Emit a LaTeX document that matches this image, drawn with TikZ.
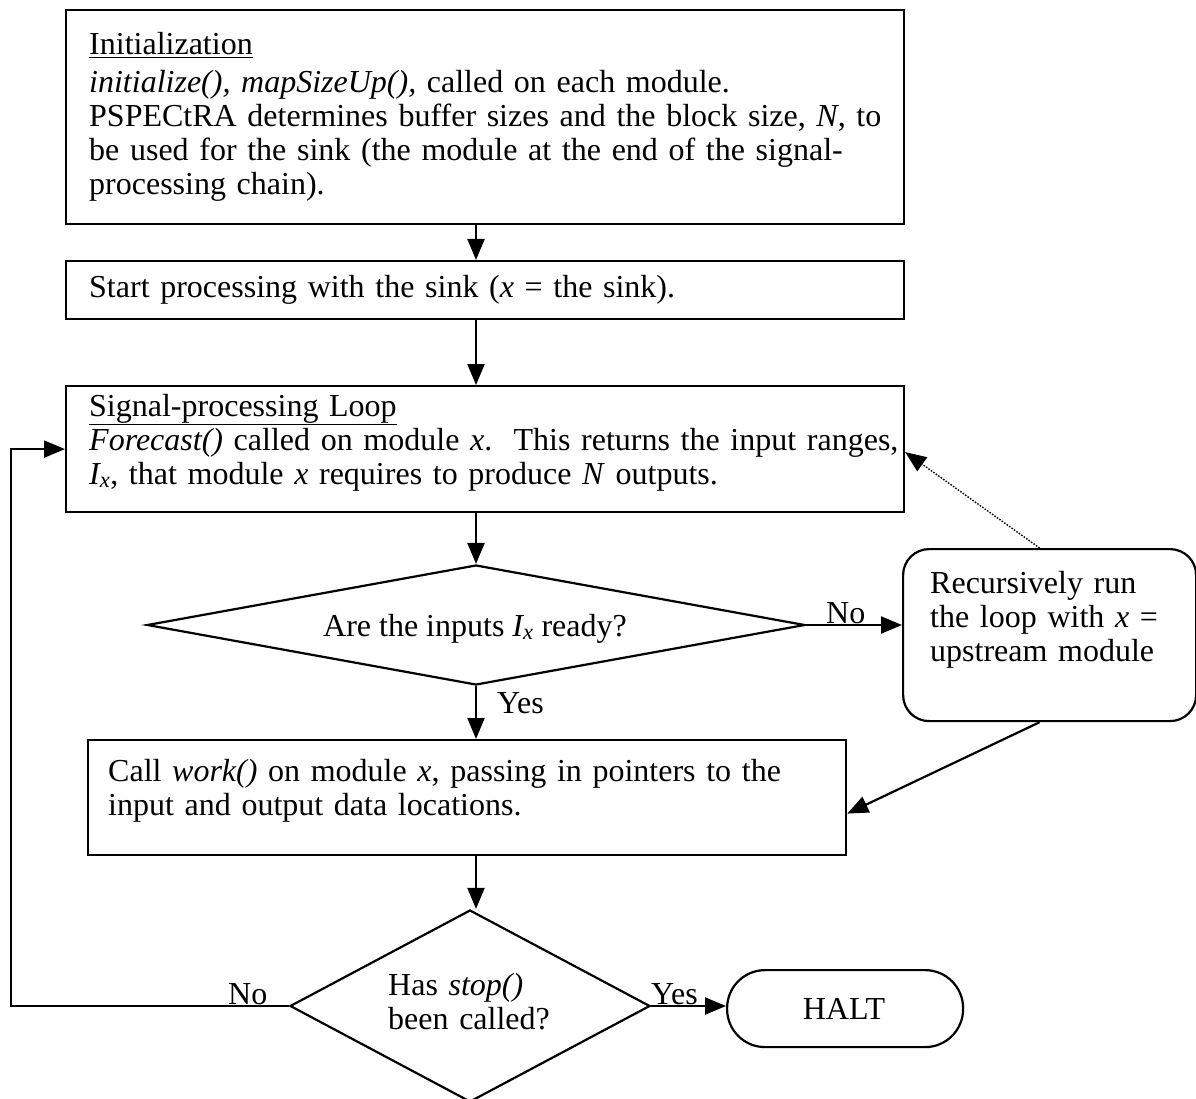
\documentclass[tikz,border=0pt]{standalone}
\usepackage{fontspec}
\setmainfont{Liberation Serif}
\usetikzlibrary{arrows.meta,shapes.geometric}

\begin{document}
\begin{tikzpicture}[x=1pt,y=-1pt,
  box/.style={draw, line width=2.2pt, inner sep=0pt, anchor=north west},
  txt/.style={inner sep=0pt, anchor=base west, align=left, text width=900pt,
              font=\fontsize{32}{34}\selectfont},
  lbl/.style={inner sep=0pt, anchor=base west, font=\fontsize{32}{34}\selectfont},
  arr/.style={-{Triangle[length=21pt,width=17pt]}, line width=2.2pt},
  dotarr/.style={-{Triangle[length=21pt,width=17pt]}, line width=1.4pt,
                 dash pattern=on 1.5pt off 1.5pt},
  dec/.style={draw, diamond, line width=2.2pt, inner sep=0pt},
]
\useasboundingbox (0,0) rectangle (1196,1099);

% process boxes
\node[box, minimum width=838pt, minimum height=214pt] (init) at (65,9) {};
\node[box, minimum width=838pt, minimum height=58pt] (start) at (65,260) {};
\node[box, minimum width=838pt, minimum height=126pt] (loop) at (65,385) {};
\node[box, minimum width=758pt, minimum height=115pt] (work) at (87,739) {};
\node[box, rounded corners=26pt, minimum width=293pt, minimum height=172pt] (rec) at (902,548) {};
\node[box, rounded corners=38pt, minimum width=236pt, minimum height=77pt] (halt) at (726,969) {};

% decisions
\node[dec, minimum width=658pt, minimum height=120pt] (d1) at (476,625) {};
\node[dec, minimum width=360pt, minimum height=192pt] (d2) at (470,1006) {};

% texts
\node[txt] (initT) at (89,55) {\underline{Initialization}\\[4pt]
  \textit{initialize(), mapSizeUp(),} called on each module.\\
  PSPECtRA determines buffer sizes and the block size, \textit{N}, to\\
  be used for the sink (the module at the end of the signal-\\
  processing chain).};
\node[txt] (startT) at (89,298) {Start processing with the sink (\textit{x} = the sink).};
\node[txt] (loopT) at (89,416) {\underline{Signal-processing Loop}\\
  \textit{Forecast()} called on module \textit{x}.\ \ This returns the input ranges,\\
  \textit{I\textsubscript{x}}, that module \textit{x} requires to produce \textit{N} outputs.};
\node[lbl, anchor=base] (d1T) at (475,636) {Are the inputs \textit{I\textsubscript{x}} ready?};
\node[txt] (recT) at (930,593) {Recursively run\\ the loop with \textit{x} =\\ upstream module};
\node[txt] (workT) at (108,781) {Call \textit{work()} on module \textit{x}, passing in pointers to the\\
  input and output data locations.};
\node[txt, text width=200pt] (d2T) at (388,995) {Has \textit{stop()}\\ been called?};
\node[lbl, anchor=base] (haltT) at (844,1019) {HALT};

% branch labels
\node[lbl] (yes1) at (497,713) {Yes};
\node[lbl] (no1) at (826,623) {No};
\node[lbl] (yes2) at (651,1004) {Yes};
\node[lbl] (no2) at (228,1004) {No};

% flow
\coordinate (back) at (11,0);
\draw[arr] (init.south -| d1.north) -- (start.north -| d1.north);
\draw[arr] (start.south -| d1.north) -- (loop.north -| d1.north);
\draw[arr] (loop.south -| d1.north) -- (d1.north);
\draw[arr] (d1.south) -- (work.north -| d1.south);
\draw[arr] (work.south -| d1.south) -- (d2.north -| d1.south);
\draw[arr] (d1.east) -- (rec.west |- d1.east);
\draw[dotarr] ([xshift=-10pt]rec.north) -- ([yshift=-3pt]loop.east);
\draw[arr] ([xshift=-10pt]rec.south) -- ([yshift=-16pt]work.east);
\draw[arr] (d2.east) -- (halt.west |- d2.east);
\draw[arr] (d2.west) -- (back |- d2.west) -- (back |- loop.west) -- (loop.west);
\end{tikzpicture}
\end{document}
